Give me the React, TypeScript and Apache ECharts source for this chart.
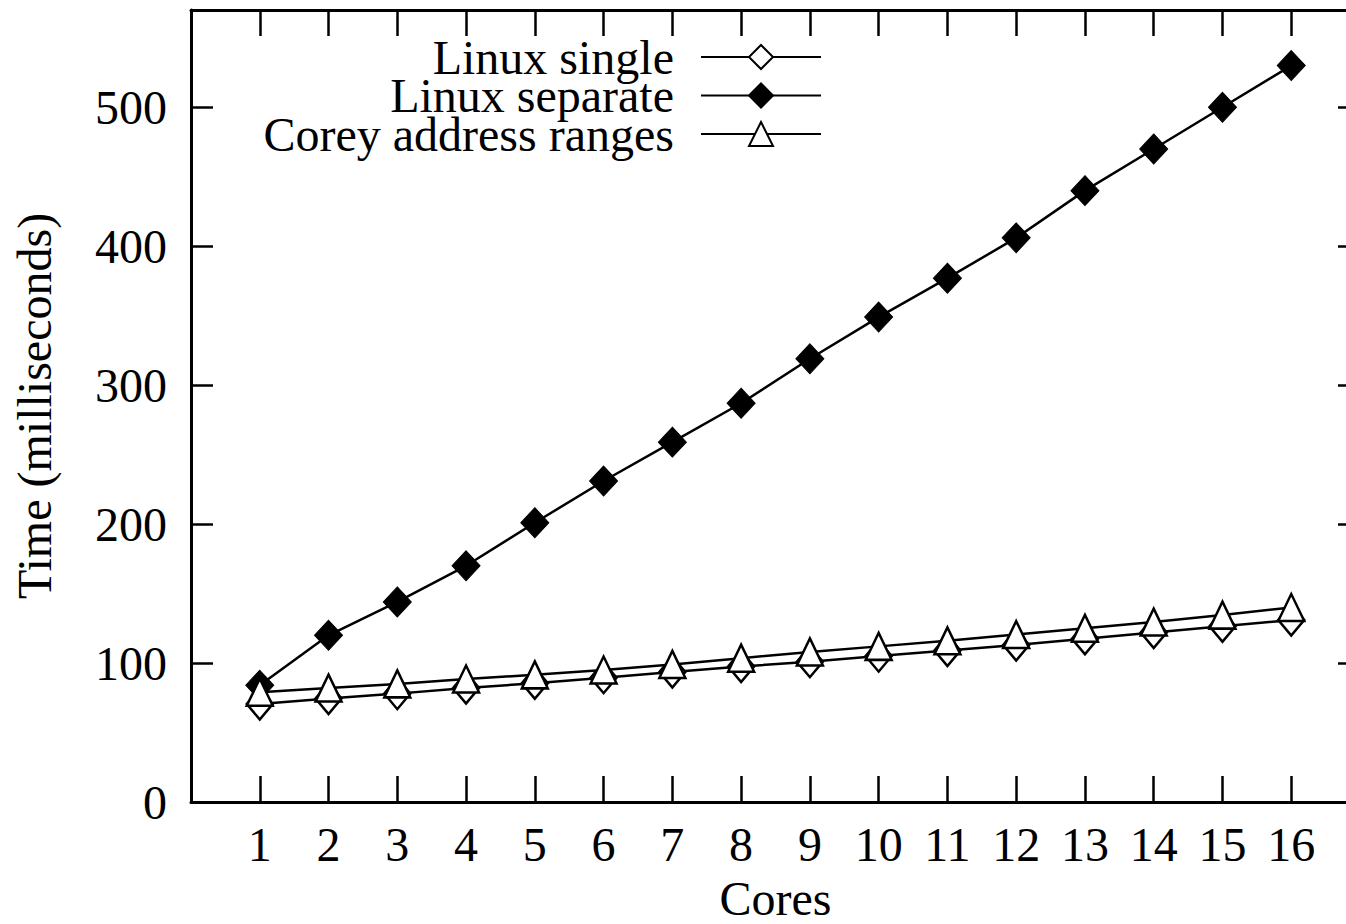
import React, { useEffect, useRef } from "react";
import * as echarts from "echarts";

const cores = [1, 2, 3, 4, 5, 6, 7, 8, 9, 10, 11, 12, 13, 14, 15, 16];
const linuxSingle = [70.5, 74.5, 78, 82, 85.5, 89.5, 93.5, 97.5, 101, 105, 109, 113, 117.5, 122, 126.5, 131];
const linuxSeparate = [84, 120, 144, 170, 201, 231, 259, 287, 319, 349, 377, 406, 440, 470, 500, 530];
const coreyRanges = [79, 82, 85, 88.5, 91.5, 95, 99, 103.5, 108, 112, 116, 120.5, 125, 129.5, 134.5, 140];
const yTicks = [0, 100, 200, 300, 400, 500];
const seriesNames = ["Linux single", "Linux separate", "Corey address ranges"];
const xTitle = "Cores";
const yTitle = "Time (milliseconds)";

const CHART_W = 1380;

export default function App() {
  const ref = useRef<HTMLDivElement>(null);
  useEffect(() => {
    const chart = echarts.init(ref.current!, null, { renderer: "svg" });
    const font = "Liberation Serif";
    const axisLine = { show: true, onZero: false, lineStyle: { color: "#000", width: 3 } };
    const xTick = { show: true, inside: true, length: 26, lineStyle: { color: "#000", width: 2.5 } };
    const yTick = { show: true, inside: true, length: 22, lineStyle: { color: "#000", width: 2.5 } };
    const pairs = (vals: number[]) => cores.map((c, i) => [c, vals[i]]);
    const lineStyle = { color: "#000", width: 2.5 };

    chart.setOption({
      animation: false,
      backgroundColor: "#fff",
      grid: { left: 191, top: 10, width: 1169, height: 792, containLabel: false, outerBoundsMode: "none" },
      xAxis: [
        {
          type: "value",
          position: "bottom",
          min: 0,
          max: 17,
          interval: 1,
          axisLine,
          axisTick: xTick,
          splitLine: { show: false },
          axisLabel: {
            margin: 18,
            fontFamily: font,
            fontSize: 48,
            color: "#000",
            formatter: (v: number) => (cores.includes(v) ? String(v) : ""),
          },
          name: xTitle,
          nameLocation: "middle",
          nameGap: 72,
          nameTextStyle: { fontFamily: font, fontSize: 48, color: "#000" },
        },
        {
          type: "value",
          position: "top",
          min: 0,
          max: 17,
          interval: 1,
          axisLine,
          axisTick: xTick,
          splitLine: { show: false },
          axisLabel: { show: false },
        },
      ],
      yAxis: [
        {
          type: "value",
          position: "left",
          min: 0,
          max: 570,
          interval: 100,
          axisLine,
          axisTick: yTick,
          splitLine: { show: false },
          axisLabel: {
            margin: 24,
            fontFamily: font,
            fontSize: 48,
            color: "#000",
            showMaxLabel: false,
            formatter: (v: number) => (yTicks.includes(v) ? String(v) : ""),
          },
          name: yTitle,
          nameLocation: "middle",
          nameGap: 133,
          nameTextStyle: { fontFamily: font, fontSize: 48, color: "#000" },
        },
        {
          type: "value",
          position: "right",
          min: 0,
          max: 570,
          interval: 100,
          axisLine,
          axisTick: yTick,
          splitLine: { show: false },
          axisLabel: { show: false },
        },
      ],
      legend: seriesNames.map((name, i) => ({
        data: [name],
        orient: "horizontal",
        align: "right",
        right: CHART_W - 822,
        top: 33 + i * 38.5,
        padding: 0,
        itemWidth: 120,
        itemHeight: 30,
        selectedMode: false,
        textStyle: {
          fontFamily: font,
          fontSize: 48,
          lineHeight: 38,
          color: "#000",
          padding: [0, 22, 0, 0],
        },
      })),
      series: [
        {
          name: seriesNames[0],
          type: "line",
          data: pairs(linuxSingle),
          symbol: "diamond",
          symbolSize: [26, 31],
          lineStyle,
          itemStyle: { color: "#fff", borderColor: "#000", borderWidth: 2.5 },
        },
        {
          name: seriesNames[1],
          type: "line",
          data: pairs(linuxSeparate),
          symbol: "diamond",
          symbolSize: [28, 30],
          lineStyle,
          itemStyle: { color: "#000", borderColor: "#000", borderWidth: 1 },
        },
        {
          name: seriesNames[2],
          type: "line",
          data: pairs(coreyRanges),
          symbol: "triangle",
          symbolSize: [26, 27],
          lineStyle,
          itemStyle: { color: "#fff", borderColor: "#000", borderWidth: 2.5 },
        },
      ],
    });
    return () => chart.dispose();
  }, []);
  return (
    <div
      style={{ position: "absolute", left: 0, top: 0, width: 1346, height: 924, overflow: "hidden", background: "#fff" }}
    >
      <div ref={ref} style={{ width: CHART_W, height: 924 }} />
    </div>
  );
}
